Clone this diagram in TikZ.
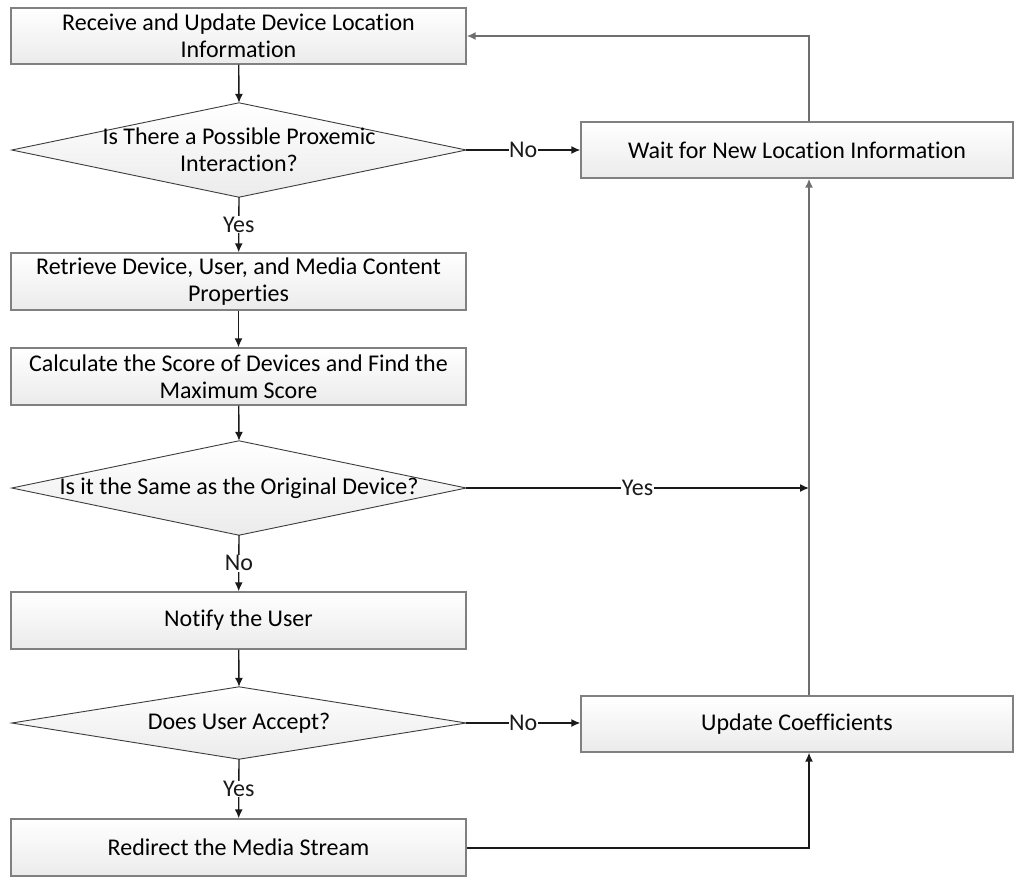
\documentclass[tikz,border=0pt]{standalone}
\usepackage{fontspec}
\setmainfont{Carlito}[RawFeature=-liga]
\usetikzlibrary{arrows.meta,calc}
\definecolor{edgegray}{HTML}{808080}
\definecolor{linedark}{HTML}{1A1A1A}
\definecolor{linegray}{HTML}{6E6E6E}
\definecolor{shadelow}{HTML}{EBEBEB}
\tikzset{
  flowfont/.style={font=\fontsize{24}{27}\selectfont},
  procbox/.style={flowfont, draw=edgegray, line width=1.3pt, top color=white, bottom color=shadelow,
    minimum width=455pt, minimum height=56pt, align=center, inner sep=0pt},
  sidebox/.style={procbox, minimum width=432pt},
  decision/.style={flowfont, minimum width=454pt, align=center, inner sep=0pt},
  diamondline/.style={draw=linedark!85, line width=0.9pt, top color=white, bottom color=shadelow},
  conn/.style={linedark, line width=1.4pt, -{Latex[length=9pt,width=8pt]}},
  conngray/.style={linegray, line width=1.8pt, -{Latex[length=9pt,width=8pt]}},
  lbl/.style={flowfont, fill=white, inner sep=0.5pt}
}
\begin{document}
\begin{tikzpicture}[x=1pt,y=-1pt]
\useasboundingbox (0,0) rectangle (1024,876);

% left column
\node[procbox] (recv) at (238.5,36) {Receive and Update Device Location\\Information};
\node[decision, minimum height=94pt] (prox) at (239,150) {};
\draw[diamondline] (prox.west) -- (prox.north) -- (prox.east) -- (prox.south) -- cycle;
\node[flowfont, align=center] at (prox.center) {Is There a Possible Proxemic\\Interaction?};
\node[procbox, minimum height=57pt] (retr) at (238.5,281.5) {Retrieve Device, User, and Media Content\\Properties};
\node[procbox, minimum height=57pt] (calc) at (238.5,376.5) {Calculate the Score of Devices and Find the\\Maximum Score};
\node[decision, minimum height=94pt] (same) at (239,488) {};
\draw[diamondline] (same.west) -- (same.north) -- (same.east) -- (same.south) -- cycle;
\node[flowfont] at (same.center) {Is it the Same as the Original Device?};
\node[procbox, minimum height=57pt] (notif) at (238.5,620.5) {Notify the User};
\node[decision, minimum height=72pt] (acc) at (239,723) {};
\draw[diamondline] (acc.west) -- (acc.north) -- (acc.east) -- (acc.south) -- cycle;
\node[flowfont] at (acc.center) {Does User Accept?};
\node[procbox, minimum height=57pt] (redir) at (238.5,847.5) {Redirect the Media Stream};

% right column
\node[sidebox] (wait) at (797,150) {Wait for New Location Information};
\node[sidebox] (upd) at (797,724) {Update Coefficients};
\coordinate (rail) at (809,0);

% main flow
\draw[conn] (recv) -- (prox.north);
\draw[conn] (prox.south) -- node[lbl] {Yes} (retr);
\draw[conn] (retr) -- (calc);
\draw[conn] (calc) -- (same.north);
\draw[conn] (same.south) -- node[lbl] {No} (notif);
\draw[conn] (notif) -- (acc.north);
\draw[conn] (acc.south) -- node[lbl] {Yes} (redir);

% branches to the right column
\draw[conn] (prox.east) -- node[lbl] {No} (wait.west |- prox.east);
\draw[conn] (acc.east) -- node[lbl] {No} (upd.west |- acc.east);
\draw[conn] (same.east) -- node[lbl] {Yes} (rail |- same.east);
\draw[conn] (redir.east |- 0,848) -- (rail |- 0,848) -- (rail |- upd.south);

% return path
\draw[conngray] (rail |- upd.north) -- (rail |- wait.south);
\draw[conngray] (rail |- wait.north) -- (rail |- recv.east) -- (recv.east);
\end{tikzpicture}
\end{document}
